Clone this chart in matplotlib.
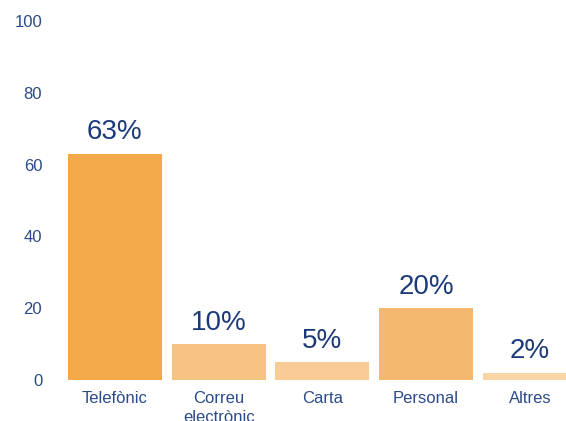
import matplotlib
matplotlib.use('Agg')
import matplotlib.pyplot as plt

categories = ['Telefònic', 'Correu\nelectrònic', 'Carta', 'Personal', 'Altres']
values = [63, 10, 5, 20, 2]
colors = ['#F4A84A', '#F7C383', '#F8CC94', '#F4B96F', '#F8D5A5']

plt.rcParams['font.family'] = ['Liberation Sans', 'DejaVu Sans']
value_color = '#1B3A7A'
tick_color = '#2A4A8A'

fig = plt.figure(figsize=(5.66, 4.21), dpi=100)
ax = fig.add_axes([63 / 566, 41 / 421, 1 - 63 / 566, 359 / 421])

x = range(len(categories))
bars = ax.bar(x, values, width=0.905, color=colors)

for b, v in zip(bars, values):
    ax.annotate(f'{v}%', (b.get_x() + b.get_width() / 2, v),
                xytext=(0, 6), textcoords='offset points',
                ha='center', va='bottom', fontsize=20, color=value_color)

ax.set_xlim(-0.5, (566 - 63) / 103.75 - 0.5)
ax.set_ylim(0, 100)
ax.set_yticks([0, 20, 40, 60, 80, 100])
ax.set_xticks(list(x))
ax.set_xticklabels(categories, linespacing=1.35)
ax.tick_params(axis='y', length=0, pad=15, labelsize=12, labelcolor=tick_color)
ax.tick_params(axis='x', length=0, pad=8, labelsize=12, labelcolor=tick_color)
for s in ax.spines.values():
    s.set_visible(False)

fig.savefig('out.png', dpi=100)
